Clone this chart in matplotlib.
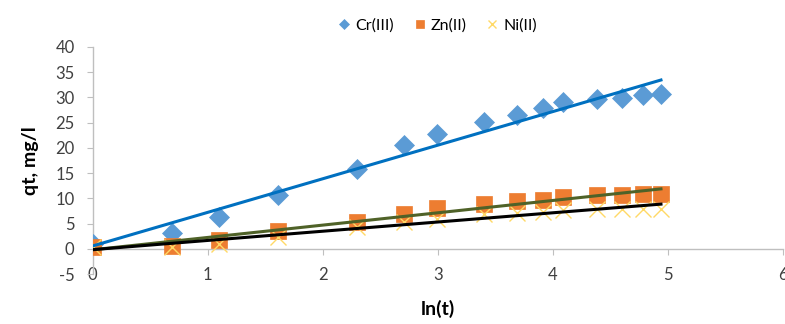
import numpy as np
import matplotlib.pyplot as plt

# ln(t) for the sampling times
ln_t = [0.0, 0.693, 1.099, 1.609, 2.303, 2.708, 2.996, 3.401,
        3.689, 3.912, 4.094, 4.382, 4.605, 4.787, 4.942]

cr_qt = [0.9, 3.1, 6.4, 10.7, 15.8, 20.5, 22.8, 25.1,
         26.6, 28.0, 29.0, 29.7, 29.9, 30.4, 30.6]
zn_qt = [0.4, 0.5, 1.7, 3.6, 5.4, 6.9, 8.1, 8.8,
         9.4, 9.7, 10.2, 10.6, 10.6, 10.9, 10.9]
ni_qt = [0.3, 0.3, 1.0, 2.4, 4.3, 5.3, 6.0, 6.9,
         7.2, 7.4, 7.7, 7.8, 7.8, 7.9, 7.9]

plt.rcParams['font.family'] = ['Lato', 'DejaVu Sans']
plt.rcParams['axes.unicode_minus'] = False

fig = plt.figure(figsize=(7.85, 3.24), dpi=100)
ax = fig.add_axes([0.118, 0.154, 0.879, 0.701])

x = np.array(ln_t)

series = [
    ("Cr(III)", cr_qt, "D", "#5B9BD5", "#0070C0", 10),
    ("Zn(II)", zn_qt, "s", "#ED7D31", "#4F6228", 11),
    ("Ni(II)", ni_qt, "x", "#FFD966", "#000000", 11),
]

for name, y, marker, mcolor, lcolor, size in series:
    ax.plot(x, y, linestyle="none", marker=marker, color=mcolor,
            markersize=size, markeredgewidth=1.0 if marker == "x" else 0.5,
            label=name, zorder=3)
    # linear trendline
    k, b = np.polyfit(x, y, 1)
    ax.plot([x[0], x[-1]], [b, k * x[-1] + b], color=lcolor, lw=2.2, zorder=4)

ax.set_xlim(0, 6)
ax.set_ylim(-5, 40)
ax.set_xticks(range(0, 7))
ax.set_yticks(range(-5, 41, 5))

ax.spines['bottom'].set_position(('data', 0))
ax.spines['top'].set_visible(False)
ax.spines['right'].set_visible(False)
for s in ('bottom', 'left'):
    ax.spines[s].set_color('#BFBFBF')
    ax.spines[s].set_linewidth(1.0)

ax.tick_params(axis='x', direction='out', length=4, color='#BFBFBF',
               pad=9, labelsize=12, labelcolor='#404040')
ax.tick_params(axis='y', direction='out', length=4, color='#BFBFBF',
               pad=9, labelsize=12, labelcolor='#404040')

ax.set_xlabel("ln(t)", fontsize=14, fontweight='bold', labelpad=12)
ax.set_ylabel("qt, mg/l", fontsize=14, fontweight='bold', labelpad=12)

ax.legend(loc='lower center', bbox_to_anchor=(0.5, 1.0), ncol=3,
          frameon=False, fontsize=11.5, handlelength=0.8, handletextpad=0.3,
          columnspacing=1.2, markerscale=0.5, borderaxespad=0.5)

fig.savefig("out.png", dpi=100)
